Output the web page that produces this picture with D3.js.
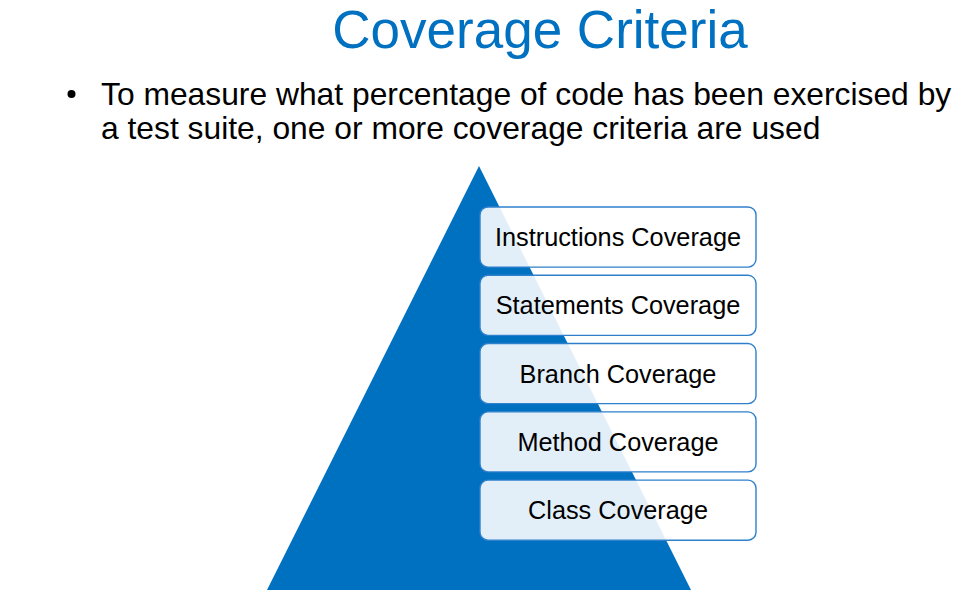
<!DOCTYPE html>
<html><head><meta charset="utf-8">
<script src="https://cdn.jsdelivr.net/npm/d3@7"></script>
<style>html,body{margin:0;padding:0;background:#fff;}svg{display:block;}</style>
</head><body>
<svg id="chart" width="977" height="615"></svg>
<script>
const title = "Coverage Criteria";
const bulletLines = ["To measure what percentage of code has been exercised by", "a test suite, one or more coverage criteria are used"];
const levels = ["Instructions Coverage", "Statements Coverage", "Branch Coverage", "Method Coverage", "Class Coverage"];
const pyramidShape = [[0.5, 0], [1, 1], [0, 1]];

const svg = d3.select("#chart");
const blue = "#0070C0";
const font = "Liberation Sans, Arial, sans-serif";

svg.append("text").attr("x", 540).attr("y", 48).attr("text-anchor", "middle")
  .attr("font-family", font).attr("font-size", 53).attr("fill", blue).text(title);

svg.append("circle").attr("cx", 71.5).attr("cy", 94).attr("r", 4).attr("fill", "#000");
svg.selectAll("text.bl").data(bulletLines).join("text").attr("class", "bl")
  .attr("x", 101).attr("y", (d, i) => 104.5 + i * 34)
  .attr("font-family", font).attr("font-size", 31.8).attr("fill", "#000").text(d => d);

const px = d3.scaleLinear().domain([0, 1]).range([267, 691]);
const py = d3.scaleLinear().domain([0, 1]).range([166, 590]);
svg.append("path").attr("d", d3.line().x(d => px(d[0])).y(d => py(d[1]))(pyramidShape) + "Z").attr("fill", blue);

const yb = d3.scaleBand().domain(levels).range([207, 540.2]).paddingInner(0.12).paddingOuter(0);
const g = svg.selectAll("g.lvl").data(levels).join("g").attr("class", "lvl");
g.append("rect").attr("x", 480).attr("y", d => yb(d)).attr("width", 276).attr("height", yb.bandwidth())
  .attr("rx", 8).attr("fill", "#fff").attr("fill-opacity", 0.89).attr("stroke", "#2f80cc").attr("stroke-width", 1.4);
g.append("text").attr("x", 618).attr("y", d => yb(d) + yb.bandwidth() / 2 + 9)
  .attr("text-anchor", "middle").attr("font-family", font).attr("font-size", 25.3).attr("fill", "#000").text(d => d);
</script>
</body></html>
